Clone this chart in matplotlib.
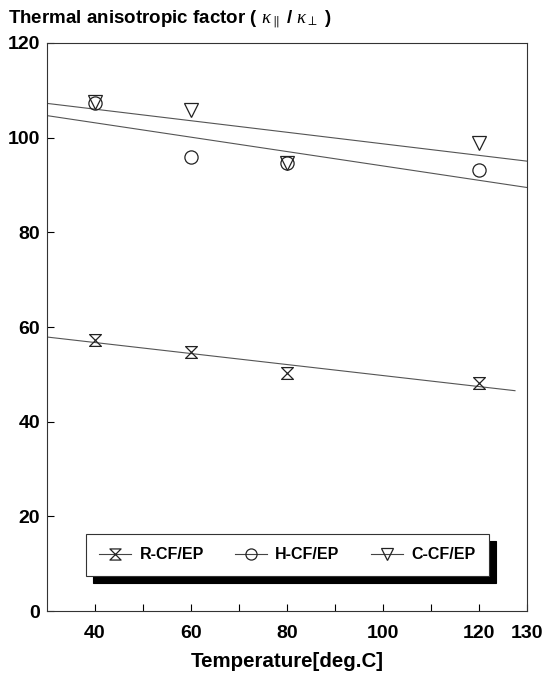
import matplotlib.pyplot as plt
import numpy as np
from matplotlib.path import Path

plt.rcParams['font.family'] = ['Liberation Sans', 'DejaVu Sans']
plt.rcParams['mathtext.fontset'] = 'custom'
plt.rcParams['mathtext.it'] = 'Liberation Serif:italic'
plt.rcParams['mathtext.rm'] = 'Liberation Sans'

# data
temps = [40, 60, 80, 120]
r_cf = [57.3, 54.8, 50.3, 48.2]
h_cf = [107.4, 96.0, 94.7, 93.2]
c_cf = [107.5, 105.9, 94.7, 98.9]
labels = ['R-CF/EP', 'H-CF/EP', 'C-CF/EP']

# hourglass marker
hourglass = Path([(-1, 1), (1, 1), (-1, -1), (1, -1), (-1, 1)],
                 [Path.MOVETO, Path.LINETO, Path.LINETO, Path.LINETO, Path.CLOSEPOLY])
markers = [hourglass, 'o', 'v']

fig = plt.figure(figsize=(5.43, 6.75), dpi=100)
ax = fig.add_axes([0.0866, 0.0948, 0.8839, 0.8415])

fit_x = [np.array([30, 127.5]), np.array([30, 130]), np.array([30, 130])]
for i, ys in enumerate([r_cf, h_cf, c_cf]):
    k, b = np.polyfit(temps, ys, 1)
    xs = fit_x[i]
    ax.plot(xs, k * xs + b, color='#555555', lw=0.8, zorder=1)
    ax.plot(temps, ys, linestyle='none', marker=markers[i], ms=8.5 if i == 0 else 9.5,
            mfc='none', mec='#222222', mew=0.9, zorder=2)

# legend proxies: line with marker
handles = []
for i in range(3):
    h, = ax.plot([], [], color='#444444', lw=0.8, marker=markers[i], ms=8,
                 mfc='none', mec='#222222', mew=0.9)
    handles.append(h)
leg = ax.legend(handles, labels, ncol=3, loc='lower left',
                bbox_to_anchor=(0.081, 0.062, 0.84, 0.077), mode='expand',
                borderaxespad=0,
                fancybox=False, edgecolor='#333333', framealpha=1,
                shadow={'color': 'black', 'alpha': 1, 'ox': 5, 'oy': -5},
                handlelength=2.0, handletextpad=0.5, columnspacing=1.2,
                prop={'weight': 'bold', 'size': 11.5}, borderpad=0.85)
leg.get_frame().set_linewidth(0.8)

ax.set_xlim(30, 130)
ax.set_ylim(0, 120)
ax.set_xticks([40, 60, 80, 100, 120, 130])
ax.set_xticks([50, 70, 90, 110], minor=True)
ax.set_yticks([0, 20, 40, 60, 80, 100, 120])
ax.tick_params(direction='in', length=5, width=0.8, labelsize=14, pad=10)
ax.tick_params(which='minor', direction='in', length=5, width=0.8)
ax.tick_params(axis='y', pad=5)
for t in ax.get_xticklabels() + ax.get_yticklabels():
    t.set_fontweight('bold')
for s in ax.spines.values():
    s.set_linewidth(0.8)
    s.set_color('#333333')

ax.set_xlabel('Temperature[deg.C]', fontsize=14.8, fontweight='bold', labelpad=7)

fig.text(0.015, 0.972, r'Thermal anisotropic factor ( $\kappa_{\parallel}$ / $\kappa_{\perp}$ )',
         fontsize=13.5, fontweight='bold', ha='left', va='center')

fig.savefig('out.png', dpi=100)
